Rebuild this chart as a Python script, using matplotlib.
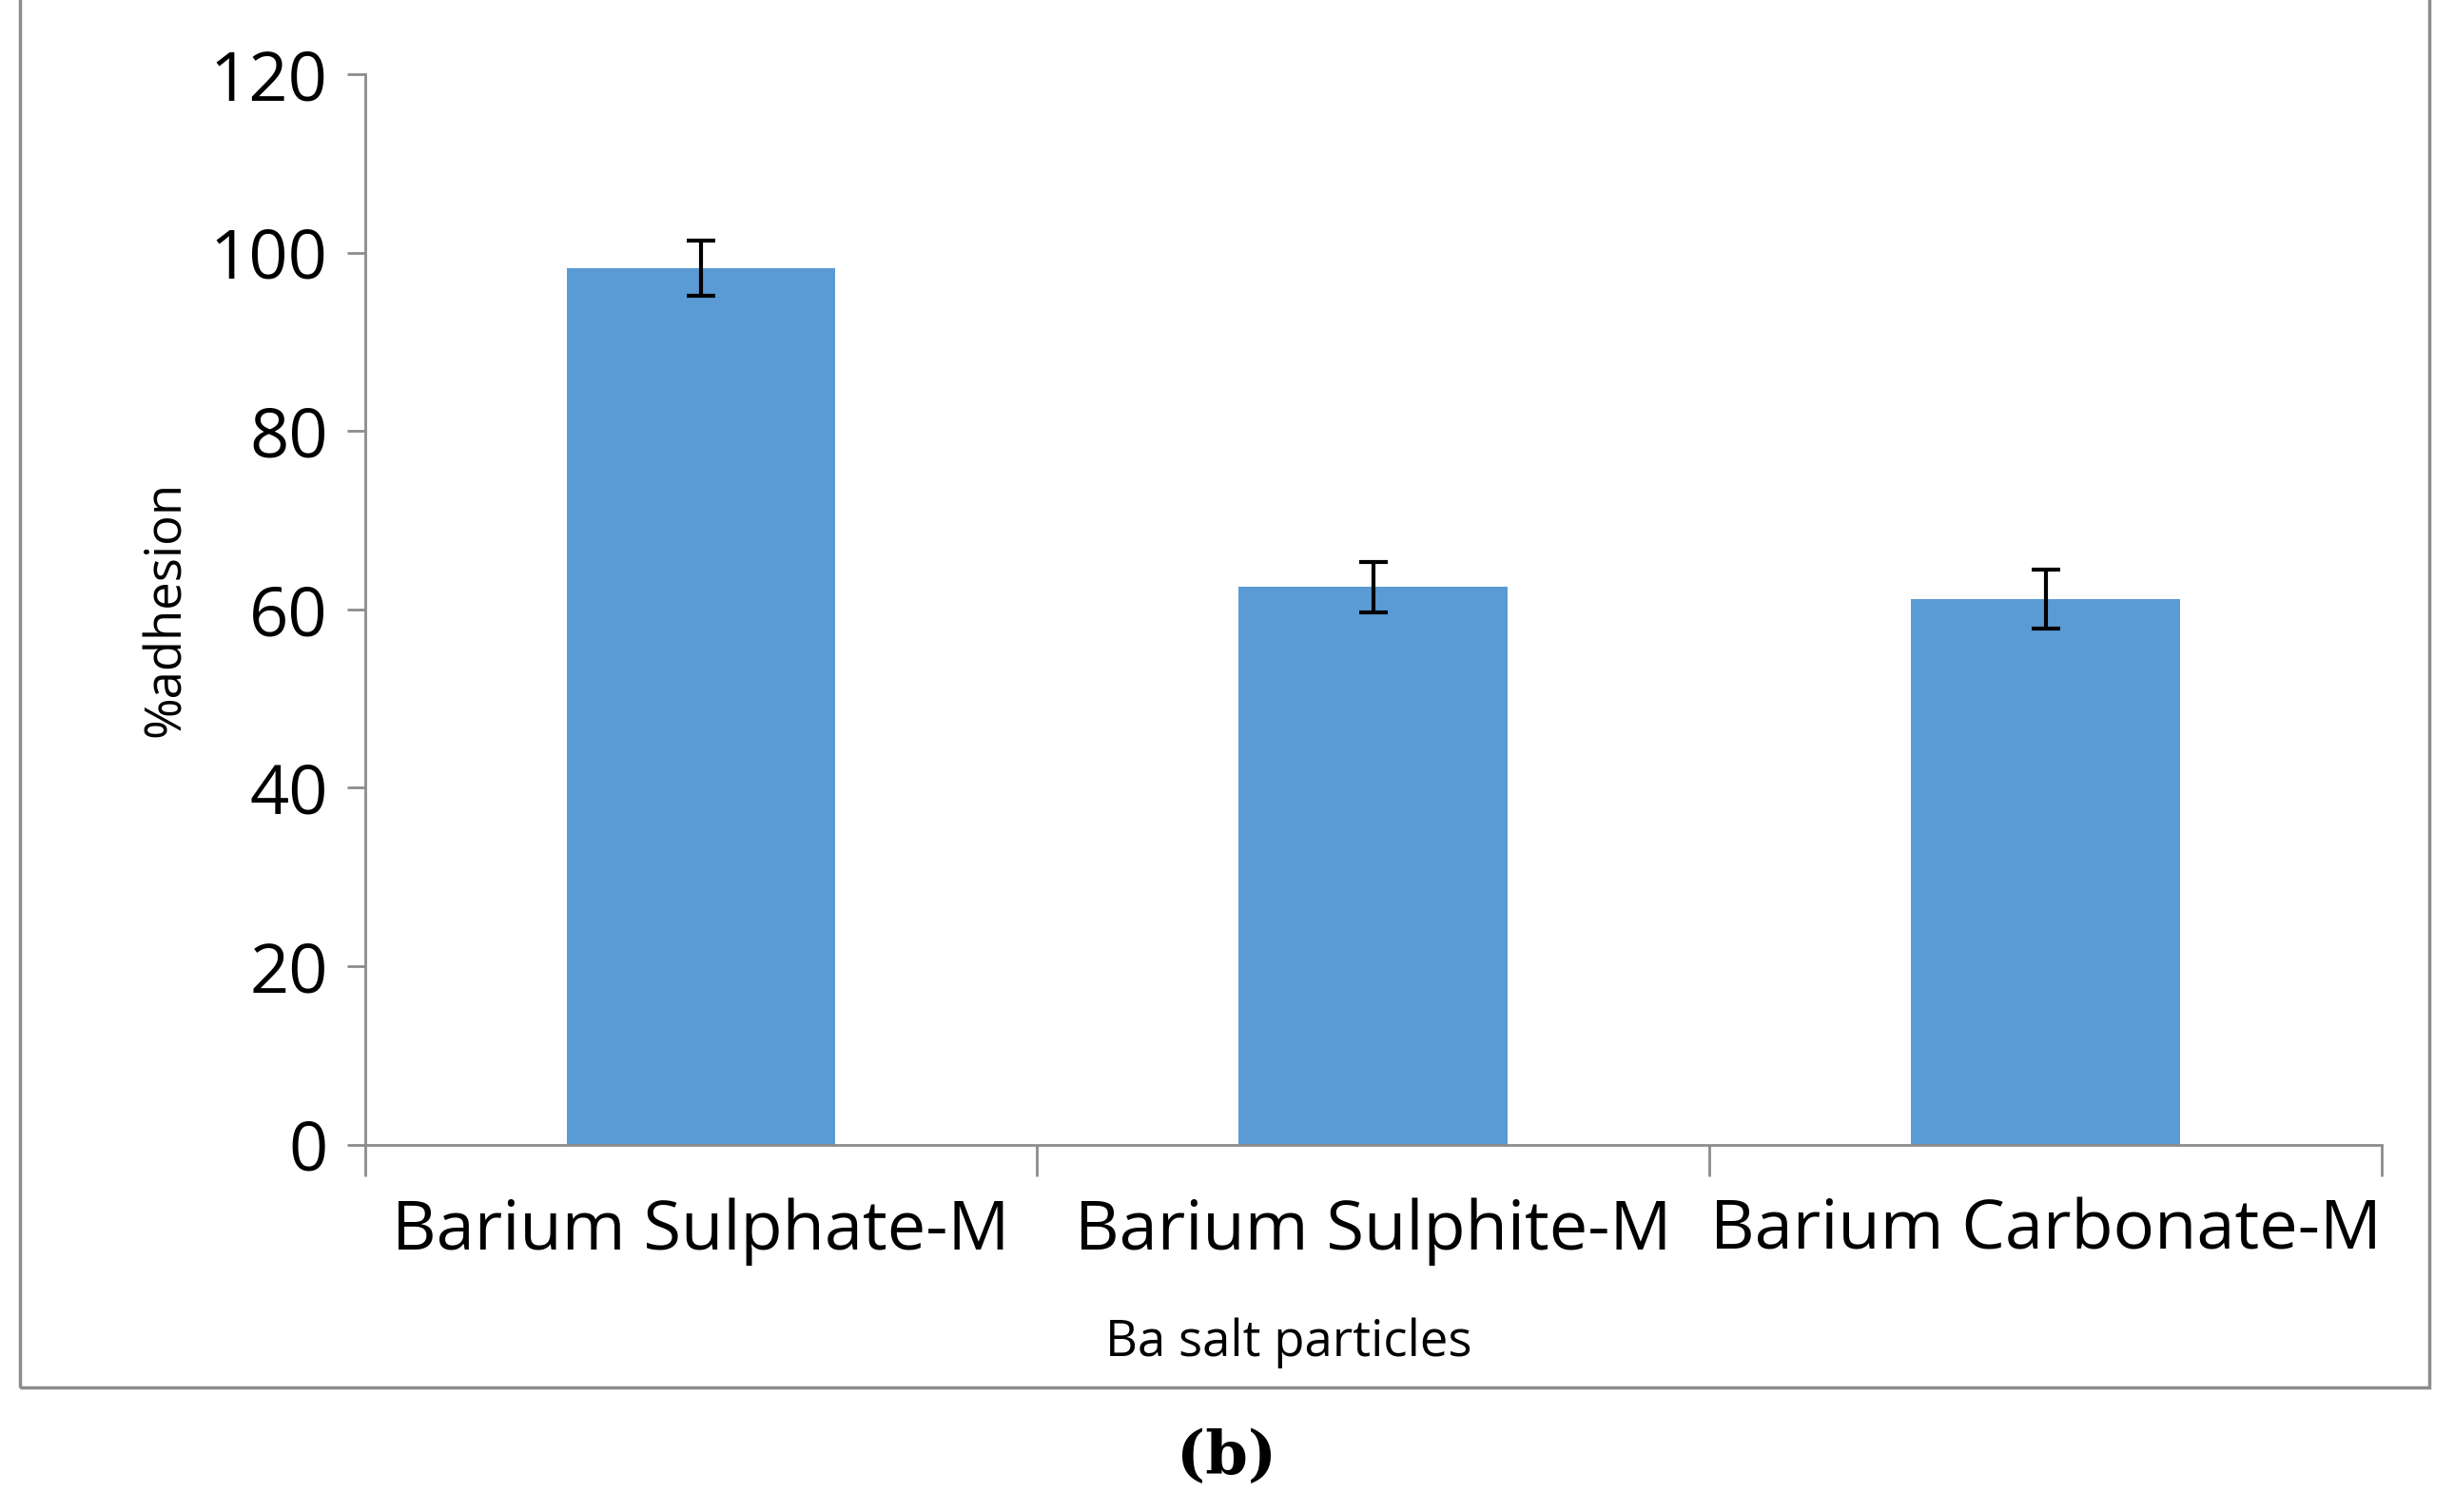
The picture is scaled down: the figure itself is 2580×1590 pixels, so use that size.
import matplotlib.pyplot as plt
from matplotlib.patches import Rectangle
import numpy as np

categories = ['Barium Sulphate-M', 'Barium Sulphite-M', 'Barium Carbonate-M']
adhesion = [98.2, 62.5, 61.1]
errors = [3.1, 2.8, 3.3]
yticks = [0, 20, 40, 60, 80, 100, 120]

plt.rcParams['font.family'] = ['Open Sans', 'DejaVu Sans']
gray = '#8c8c8c'

fig = plt.figure(figsize=(25.8, 15.9), dpi=100)
fig.patches.append(Rectangle((0.0083, 0.0825), 0.9817, 0.93, transform=fig.transFigure,
                             fill=False, edgecolor=gray, linewidth=2.5))
ax = fig.add_axes([0.1487, 0.243, 0.9705 - 0.1487, 0.708])

x = np.arange(len(categories))
ax.bar(x, adhesion, 0.4, color='#5B9BD5', zorder=2)
ax.errorbar(x, adhesion, yerr=errors, fmt='none', ecolor='black',
            elinewidth=3, capsize=11, capthick=3, zorder=3)

ax.set_xlim(-0.5, len(categories) - 0.5)
ax.set_ylim(0, 120)
ax.set_yticks(yticks)
ax.tick_params(axis='y', labelsize=52, length=14, width=2, color=gray, pad=14)
ax.set_xticks(np.arange(len(categories) + 1) - 0.5, minor=False)
ax.set_xticklabels([])
ax.tick_params(axis='x', length=24, width=2, color=gray)
ax.set_xticks(x, minor=True)
ax.set_xticklabels(categories, minor=True, fontsize=52)
ax.tick_params(axis='x', which='minor', length=0, pad=40)

for s in ['top', 'right']:
    ax.spines[s].set_visible(False)
for s in ['left', 'bottom']:
    ax.spines[s].set_color(gray)
    ax.spines[s].set_linewidth(2)

ax.set_ylabel('%adhesion', fontsize=38, labelpad=14)
fig.text(0.525, 0.112, 'Ba salt particles', ha='center', va='center', fontsize=38)
fig.text(0.5, 0.036, '(b)', ha='center', va='center', fontsize=46,
         fontweight='bold', family='DejaVu Serif')

fig.savefig('out.png', dpi=100)
